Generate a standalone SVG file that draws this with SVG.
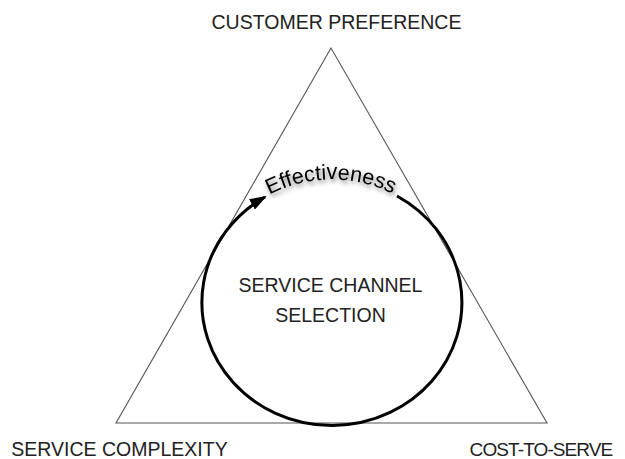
<svg xmlns="http://www.w3.org/2000/svg" width="625" height="459" viewBox="0 0 625 459">
  <style>
    .lbl { font-family: "Liberation Sans", Arial, sans-serif; font-size: 19.5px; fill: #222; text-anchor: middle; }
    .tri { fill: none; stroke: #555; stroke-width: 1.1; }
    .loop { fill: none; stroke: #000; stroke-width: 3; }
    .eff { font-family: "Liberation Sans", Arial, sans-serif; font-size: 21.5px; fill: #000; }
  </style>
  <defs>
    <marker id="arrow" markerUnits="userSpaceOnUse" markerWidth="17" markerHeight="12" refX="15" refY="6" orient="auto">
      <path d="M0,0 L17,6 L0,12 z" fill="#000"/>
    </marker>
    <filter id="shadow" x="-20%" y="-50%" width="140%" height="200%">
      <feDropShadow dx="1.5" dy="3" stdDeviation="2" flood-color="#000" flood-opacity="0.5"/>
    </filter>
    <path id="effPath" d="M 265,197 A 130 123 0 0 1 397,196"/>
  </defs>
  <rect width="625" height="459" fill="#fff"/>

  <g id="triangle">
    <polygon class="tri" points="331,48 116,423 547,423"/>
  </g>

  <g id="connectors">
    <path id="effectiveness-loop" class="loop" d="M 397,196 A 130 123 0 1 1 265,197" marker-end="url(#arrow)"/>
    <text class="eff" filter="url(#shadow)"><textPath href="#effPath" startOffset="50%" text-anchor="middle">Effectiveness</textPath></text>
  </g>

  <g id="customer-preference">
    <text class="lbl" x="336.5" y="29">CUSTOMER PREFERENCE</text>
  </g>
  <g id="service-complexity">
    <text class="lbl" x="119.5" y="456">SERVICE COMPLEXITY</text>
  </g>
  <g id="cost-to-serve">
    <text class="lbl" x="541" y="456" style="font-size:19px;letter-spacing:-0.9px">COST-TO-SERVE</text>
  </g>
  <g id="service-channel-selection">
    <text class="lbl" x="330.5" y="292">SERVICE CHANNEL</text>
    <text class="lbl" x="330.5" y="322">SELECTION</text>
  </g>
</svg>
